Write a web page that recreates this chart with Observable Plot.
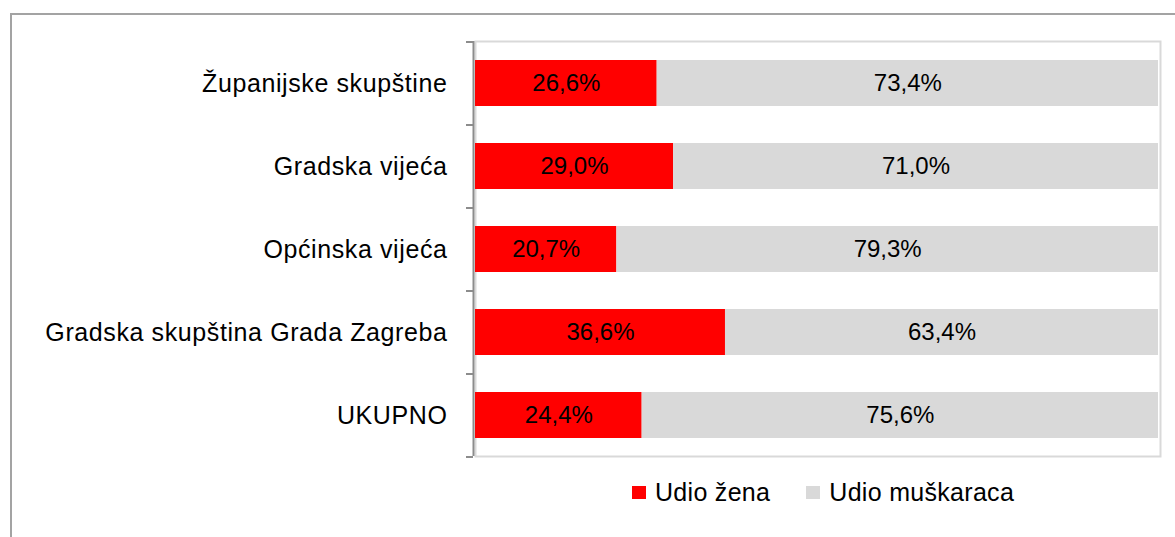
<!DOCTYPE html>
<html>
<head>
<meta charset="utf-8">
<script src="https://cdn.jsdelivr.net/npm/d3@7"></script>
<script src="https://cdn.jsdelivr.net/npm/@observablehq/plot@0.6"></script>
<style>
  html, body { margin: 0; padding: 0; background: #fff; overflow: hidden; }
  #wrap { position: relative; width: 1175px; height: 537px; overflow: hidden; font-family: "Liberation Sans", Arial, sans-serif; }
  #border { position: absolute; left: 10px; top: 13px; width: 1300px; height: 700px; border: 2px solid #a3a3a3; box-sizing: border-box; }
  #chart { position: absolute; left: 0; top: 0; }
  #chart g[aria-label="y-axis tick label"] text { letter-spacing: 0.6px; }
  #legend { position: absolute; top: 478px; left: 632px; display: flex; align-items: center; font-size: 25px; letter-spacing: 0.3px; color: #000; }
  .item { display: flex; align-items: center; }
  .sw { width: 14px; height: 13px; margin-right: 9px; }
</style>
</head>
<body>
<div id="wrap">
  <div id="border"></div>
  <div id="chart"></div>
  <div id="legend"></div>
</div>
<script>
const categories = ["Županijske skupštine", "Gradska vijeća", "Općinska vijeća", "Gradska skupština Grada Zagreba", "UKUPNO"];
const women = [26.6, 29.0, 20.7, 36.6, 24.4];
const men = [73.4, 71.0, 79.3, 63.4, 75.6];
const seriesNames = ["Udio žena", "Udio muškaraca"];
const seriesColors = ["#ff0000", "#d9d9d9"];

const data = [];
categories.forEach((c, i) => {
  data.push({category: c, series: seriesNames[0], value: women[i]});
  data.push({category: c, series: seriesNames[1], value: men[i]});
});
const fmt = v => v.toFixed(1).replace(".", ",") + "%";

const chart = Plot.plot({
  width: 1175,
  height: 470,
  marginLeft: 475,
  marginRight: 17,
  marginTop: 41,
  marginBottom: 14,
  style: {fontFamily: "'Liberation Sans', Arial, sans-serif", color: "#000", background: "transparent"},
  x: {domain: [0, 100], axis: null},
  y: {domain: categories, paddingInner: 0.45, paddingOuter: 0.225, label: null},
  color: {domain: seriesNames, range: seriesColors},
  marks: [
    Plot.frame({stroke: "#d9d9d9", strokeWidth: 2, insetRight: -2}),
    Plot.barX(data, Plot.stackX({x: "value", y: "category", fill: "series"})),
    Plot.textX(data, Plot.stackX({x: "value", y: "category", z: "series", text: d => fmt(d.value), fontSize: 24, fill: "#000"})),
    Plot.ruleX([0], {stroke: "#8c8c8c", strokeWidth: 2, dx: -2}),
    Plot.ruleY(categories, {y: d => d, x1: 0, x2: 0, insetLeft: -9, insetRight: 2, dy: -41.5, stroke: "#8c8c8c", strokeWidth: 2}),
    Plot.ruleY(categories.slice(-1), {y: d => d, x1: 0, x2: 0, insetLeft: -9, insetRight: 2, dy: 41.5, stroke: "#8c8c8c", strokeWidth: 2}),
    Plot.axisY({tickSize: 0, tickPadding: 28, fontSize: 25, fill: "#000"})
  ]
});
document.getElementById("chart").appendChild(chart);

const legend = document.getElementById("legend");
seriesNames.forEach((name, i) => {
  const item = document.createElement("div");
  item.className = "item";
  if (i > 0) item.style.marginLeft = "36px";
  const sw = document.createElement("div");
  sw.className = "sw";
  sw.style.background = seriesColors[i];
  const t = document.createElement("span");
  t.textContent = name;
  item.appendChild(sw);
  item.appendChild(t);
  legend.appendChild(item);
});
</script>
</body>
</html>
